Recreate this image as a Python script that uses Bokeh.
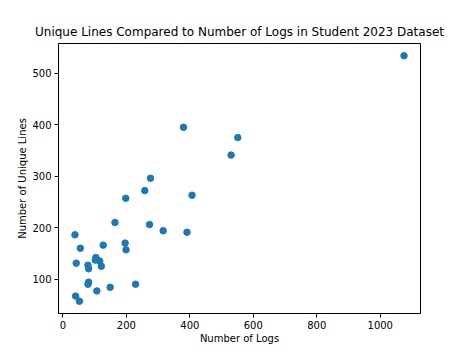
from bokeh.plotting import figure
from bokeh.models import FixedTicker, Range1d
from bokeh.embed import file_html
from bokeh.resources import INLINE

logs = [1075, 380, 551, 530, 276, 258, 198, 407, 164, 273, 316, 391, 38, 196, 55,
        127, 199, 42, 79, 81, 104, 102, 116, 121, 81, 79, 149, 107, 229, 40, 52]
unique_lines = [534, 395, 375, 341, 296, 272, 257, 263, 210, 206, 194, 191, 186, 170, 160,
                166, 157, 131, 127, 120, 142, 137, 135, 125, 94, 90, 84, 77, 90, 67, 57]
x_ticks = [0, 200, 400, 600, 800, 1000]
y_ticks = [100, 200, 300, 400, 500]

title = "Unique Lines Compared to Number of Logs in Student 2023 Dataset"

xmin, xmax = min(logs), max(logs)
ymin, ymax = min(unique_lines), max(unique_lines)
xm = (xmax - xmin) * 0.05
ym = (ymax - ymin) * 0.05

p = figure(width=468, height=352, output_backend="svg", toolbar_location=None,
           x_range=Range1d(xmin - xm, xmax + xm), y_range=Range1d(ymin - ym, ymax + ym),
           min_border_left=58, min_border_right=48, min_border_top=43, min_border_bottom=39,
           title=title)

p.scatter(logs, unique_lines, size=6.5, color="#1f77b4", line_color="#1f77b4")

p.title.align = "center"
p.title.text_font = "DejaVu Sans"
p.title.text_font_size = "12px"
p.title.text_font_style = "normal"
p.title.text_color = "black"

p.xgrid.visible = False
p.ygrid.visible = False
p.outline_line_color = "black"
p.outline_line_width = 1
p.background_fill_color = "white"
p.border_fill_color = "white"

p.xaxis.ticker = FixedTicker(ticks=x_ticks)
p.yaxis.ticker = FixedTicker(ticks=y_ticks)
p.xaxis.axis_label = "Number of Logs"
p.yaxis.axis_label = "Number of Unique Lines"

for ax in [p.xaxis[0], p.yaxis[0]]:
    ax.axis_line_color = "black"
    ax.major_tick_line_color = "black"
    ax.major_tick_out = 4
    ax.major_tick_in = 0
    ax.minor_tick_line_color = None
    ax.major_label_text_font = "DejaVu Sans"
    ax.major_label_text_font_size = "10px"
    ax.major_label_text_color = "black"
    ax.axis_label_text_font = "DejaVu Sans"
    ax.axis_label_text_font_size = "10px"
    ax.axis_label_text_font_style = "normal"
    ax.axis_label_text_color = "black"
    ax.major_label_standoff = 3
    ax.axis_label_standoff = 1

open("out.html", "w").write(file_html(p, INLINE))
